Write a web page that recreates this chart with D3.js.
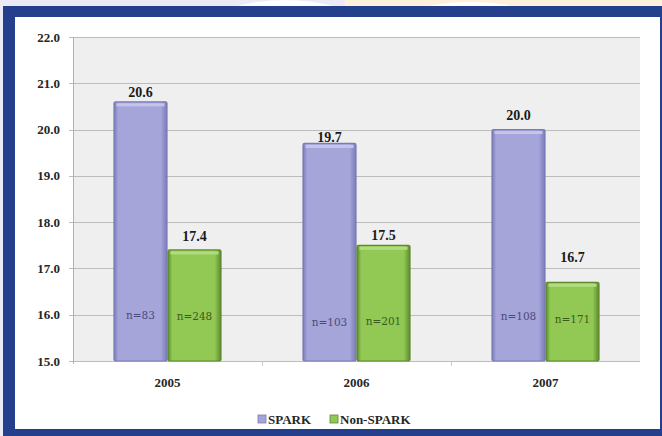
<!DOCTYPE html>
<html>
<head>
<meta charset="utf-8">
<script src="https://d3js.org/d3.v7.min.js"></script>
<style>
  body { margin: 0; padding: 0; background: #ebeaf5; }
  svg { display: block; }
  text { font-family: 'Liberation Serif', 'Times New Roman', 'DejaVu Serif', serif; }
  text.n { font-family: 'DejaVu Serif', 'Liberation Serif', serif; }
</style>
</head>
<body>
<div id="chart"></div>
<script>
var years = ["2005", "2006", "2007"]
  , series = ["SPARK", "Non-SPARK"]
  , sparkValues = [20.6, 19.7, 20.0]
  , nonSparkValues = [17.4, 17.5, 16.7]
  , sparkN = ["n=83", "n=103", "n=108"]
  , nonSparkN = ["n=248", "n=201", "n=171"]
  , yTicks = [15, 16, 17, 18, 19, 20, 21, 22]

// how far (px) each value label sits above its bar, as the original placed them
var labelLift = [[10, 14], [6, 10], [14, 25]]
  , nLabelY = [[315, 316], [322, 321], [316, 319]]

var width = 662
  , height = 436
  , svg = d3.select("#chart").append("svg")
    .attr("width", width)
    .attr("height", height)

var colors = {
  "SPARK": { fill: "#a5a5da", stroke: "#7b7bb8", light: "#c4c4ea", text: "#4a4a7a" }
, "Non-SPARK": { fill: "#92c955", stroke: "#5e8a2e", light: "#b2dc80", text: "#3d5a1c" }
}

// background + frame
svg.append("rect").attr("width", width).attr("height", height).attr("fill", "#ebeaf5")
svg.append("ellipse").attr("cx", 285).attr("cy", 22).attr("rx", 70).attr("ry", 22).attr("fill", "#ffffff")
svg.append("rect").attr("x", 345).attr("y", 0).attr("width", 317).attr("height", 10).attr("fill", "#fdf1dc")
svg.append("ellipse").attr("cx", 470).attr("cy", 20).attr("rx", 65).attr("ry", 18).attr("fill", "#ffffff")
svg.append("rect").attr("x", 3).attr("y", 6).attr("width", width - 3).attr("height", height - 6).attr("fill", "#243f8c")
svg.append("rect").attr("x", 15).attr("y", 17).attr("width", 645).attr("height", 412).attr("fill", "#ffffff")

var plot = { left: 73, right: 640, top: 37, bottom: 361 }

var x0 = d3.scaleBand().domain(years).range([plot.left, plot.right])
  , x1 = d3.scaleBand().domain(series).range([0, x0.bandwidth()]).paddingOuter(0.75)
  , y = d3.scaleLinear().domain([15, 22]).range([plot.bottom, plot.top])

var defs = svg.append("defs")
series.forEach(function (s, i) {
  var g = defs.append("linearGradient").attr("id", "grad" + i)
    .attr("x1", "0%").attr("x2", "100%").attr("y1", "0%").attr("y2", "0%")
  g.append("stop").attr("offset", "0%").attr("stop-color", colors[s].stroke)
  g.append("stop").attr("offset", "8%").attr("stop-color", colors[s].fill)
  g.append("stop").attr("offset", "88%").attr("stop-color", colors[s].fill)
  g.append("stop").attr("offset", "100%").attr("stop-color", colors[s].stroke)
})

// plot area
svg.append("rect")
  .attr("x", plot.left).attr("y", plot.top)
  .attr("width", plot.right - plot.left).attr("height", plot.bottom - plot.top)
  .attr("fill", "#efefef")

svg.append("g")
  .selectAll("line")
    .data(yTicks)
  .enter().append("line")
    .attr("x1", plot.left - 4)
    .attr("x2", plot.right)
    .attr("y1", function (d) { return Math.round(y(d)) + 0.5 })
    .attr("y2", function (d) { return Math.round(y(d)) + 0.5 })
    .style("stroke", "#bcbcbc")
    .style("stroke-width", 1.2)

svg.append("line")
  .attr("x1", plot.left + 0.5).attr("x2", plot.left + 0.5)
  .attr("y1", plot.top).attr("y2", plot.bottom + 3)
  .style("stroke", "#b0b0b0")

// y labels
svg.append("g")
  .selectAll("text")
    .data(yTicks)
  .enter().append("text")
    .attr("x", 60)
    .attr("y", function (d) { return y(d) })
    .attr("dy", "0.35em")
    .attr("text-anchor", "end")
    .style("font-weight", "bold")
    .style("font-size", "13px")
    .style("fill", "#262626")
    .text(function (d) { return d.toFixed(1) })

// category boundary ticks
svg.append("g")
  .selectAll("line")
    .data(years.slice(1))
  .enter().append("line")
    .attr("x1", function (d) { return Math.round(x0(d)) + 0.5 })
    .attr("x2", function (d) { return Math.round(x0(d)) + 0.5 })
    .attr("y1", plot.bottom)
    .attr("y2", plot.bottom + 5)
    .style("stroke", "#c8c8c8")

var rows = years.map(function (yr, i) {
  return [
    { year: yr, series: "SPARK", value: sparkValues[i], n: sparkN[i], lift: labelLift[i][0], ny: nLabelY[i][0], k: 0 }
  , { year: yr, series: "Non-SPARK", value: nonSparkValues[i], n: nonSparkN[i], lift: labelLift[i][1], ny: nLabelY[i][1], k: 1 }
  ]
})

var groups = svg.append("g")
  .selectAll("g")
    .data(rows)
  .enter().append("g")
    .attr("transform", function (d) { return "translate(" + x0(d[0].year) + ",0)" })

groups.selectAll("rect.bar")
    .data(function (d) { return d })
  .enter().append("rect")
    .attr("class", "bar")
    .attr("x", function (d) { return x1(d.series) + 0.5 })
    .attr("y", function (d) { return y(d.value) })
    .attr("width", x1.bandwidth() - 1)
    .attr("height", function (d) { return y(15) - y(d.value) })
    .attr("rx", 1.5)
    .style("fill", function (d) { return "url(#grad" + d.k + ")" })
    .style("stroke", function (d) { return colors[d.series].stroke })
    .style("stroke-width", 1.2)

// top bevel
groups.selectAll("rect.bevel")
    .data(function (d) { return d })
  .enter().append("rect")
    .attr("class", "bevel")
    .attr("x", function (d) { return x1(d.series) + 3 })
    .attr("y", function (d) { return y(d.value) + 1.5 })
    .attr("width", x1.bandwidth() - 6)
    .attr("height", 3)
    .style("fill", function (d) { return colors[d.series].light })

groups.selectAll("text.val")
    .data(function (d) { return d })
  .enter().append("text")
    .attr("class", "val")
    .attr("x", function (d) { return x1(d.series) + x1.bandwidth() / 2 })
    .attr("y", function (d) { return y(d.value) - d.lift })
    .attr("dy", "0.35em")
    .attr("text-anchor", "middle")
    .style("font-weight", "bold")
    .style("font-size", "14px")
    .style("fill", "#1a1a1a")
    .text(function (d) { return d.value.toFixed(1) })

groups.selectAll("text.n")
    .data(function (d) { return d })
  .enter().append("text")
    .attr("class", "n")
    .attr("x", function (d) { return x1(d.series) + x1.bandwidth() / 2 })
    .attr("y", function (d) { return d.ny })
    .attr("dy", "0.35em")
    .attr("text-anchor", "middle")
    .style("font-size", "10.5px")
    .style("fill", function (d) { return colors[d.series].text })
    .text(function (d) { return d.n })

// year labels
svg.append("g")
  .selectAll("text")
    .data(years)
  .enter().append("text")
    .attr("x", function (d) { return x0(d) + x0.bandwidth() / 2 })
    .attr("y", 382)
    .attr("dy", "0.35em")
    .attr("text-anchor", "middle")
    .style("font-weight", "bold")
    .style("font-size", "13px")
    .style("fill", "#262626")
    .text(function (d) { return d })

// legend
var legendX = [258, 330]
var legend = svg.append("g")
  .selectAll("g")
    .data(series)
  .enter().append("g")
    .attr("transform", function (d, i) { return "translate(" + legendX[i] + ",419)" })

legend.append("rect")
  .attr("x", 0).attr("y", -4)
  .attr("width", 8).attr("height", 8)
  .style("fill", function (d) { return colors[d].fill })
  .style("stroke", function (d) { return colors[d].stroke })
  .style("stroke-width", 0.8)

legend.append("text")
  .attr("x", 10)
  .attr("dy", "0.35em")
  .style("font-weight", "bold")
  .style("font-size", "13px")
  .style("fill", "#262626")
  .text(function (d) { return d })
</script>
</body>
</html>
